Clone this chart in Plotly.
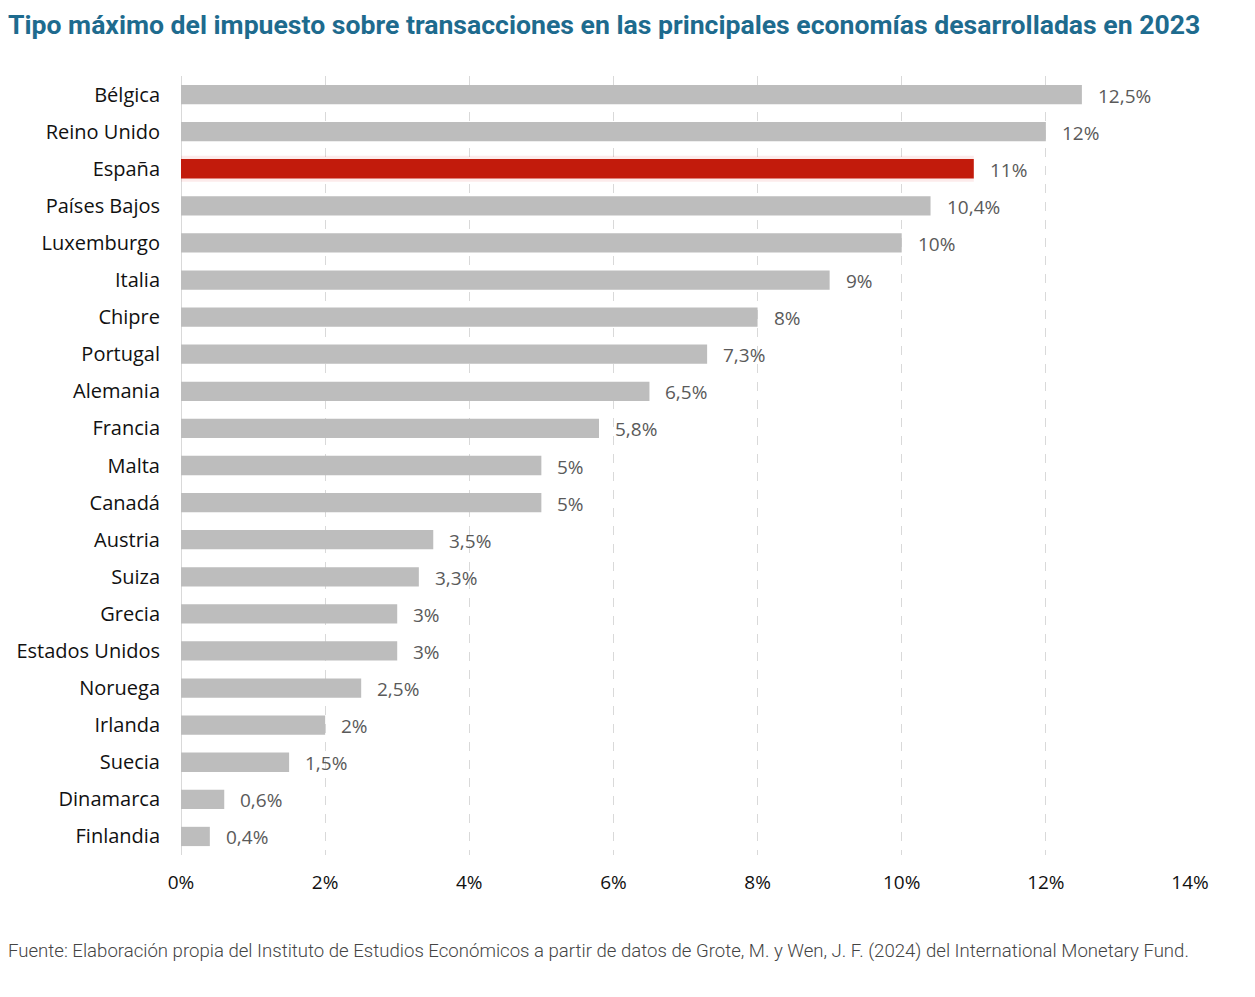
import plotly.graph_objects as go

countries = ["Bélgica", "Reino Unido", "España", "Países Bajos", "Luxemburgo", "Italia",
             "Chipre", "Portugal", "Alemania", "Francia", "Malta", "Canadá", "Austria",
             "Suiza", "Grecia", "Estados Unidos", "Noruega", "Irlanda", "Suecia",
             "Dinamarca", "Finlandia"]
values = [12.5, 12, 11, 10.4, 10, 9, 8, 7.3, 6.5, 5.8, 5, 5, 3.5, 3.3, 3, 3, 2.5, 2, 1.5, 0.6, 0.4]
highlight = "España"
tick_vals = [0, 2, 4, 6, 8, 10, 12, 14]
tick_text = ["0%", "2%", "4%", "6%", "8%", "10%", "12%", "14%"]

def fmt(v):
    s = ("%g" % v).replace(".", ",")
    return s + "%"

colors = ["#c21b0c" if c == highlight else "#bdbdbd" for c in countries]
labels = [fmt(v) for v in values]

fig = go.Figure()
# soft glow behind highlighted bar
glow_x = [v if c == highlight else None for c, v in zip(countries, values)]
fig.add_trace(go.Bar(x=glow_x, y=countries, orientation="h", width=0.7,
                     marker=dict(color="rgba(230,60,60,0.10)", line=dict(width=0)),
                     hoverinfo="skip", showlegend=False))
fig.add_trace(go.Bar(x=values, y=countries, orientation="h", width=0.52,
                     marker=dict(color=colors, line=dict(width=0)),
                     showlegend=False))

annotations = [dict(x=v, y=c, xref="x", yref="y", text=t, showarrow=False,
                    xanchor="left", yanchor="middle", xshift=14, yshift=-1,
                    font=dict(family="Open Sans", size=19, color="#5a5a5a"))
               for c, v, t in zip(countries, values, labels)]
annotations.append(dict(
    text="Fuente: Elaboración propia del Instituto de Estudios Económicos a partir de datos de Grote, M. y Wen, J. F. (2024) del International Monetary Fund.",
    xref="paper", yref="paper", x=-0.1734, y=-0.1234, xanchor="left", yanchor="middle",
    showarrow=False,
    font=dict(family="Roboto", size=18.6, weight=300, color="#444444")))

fig.update_layout(
    width=1255, height=997, barmode="overlay",
    margin=dict(l=173, r=73, t=68, b=150),
    paper_bgcolor="white", plot_bgcolor="white",
    title=dict(text="<b>Tipo máximo del impuesto sobre transacciones en las principales economías desarrolladas en 2023</b>",
               x=0.0, xanchor="left", y=0.993, yanchor="top",
               font=dict(family="Roboto", size=26.6, color="#1e6b8e")),
    xaxis=dict(range=[0, 14], tickvals=tick_vals, ticktext=tick_text,
               showgrid=True, gridcolor="#d9d9d9", griddash="dash", gridwidth=1,
               zeroline=True, zerolinecolor="#d9d9d9", zerolinewidth=1,
               tickfont=dict(family="Open Sans", size=19, color="#111111"),
               ticks="", ticklabelstandoff=14, fixedrange=True, automargin=False),
    yaxis=dict(categoryorder="array", categoryarray=countries[::-1],
               tickfont=dict(family="Open Sans", size=20, color="#111111"),
               ticks="", ticklabelstandoff=20, showgrid=False, automargin=False),
    annotations=annotations,
)

fig.write_html("out.html")
